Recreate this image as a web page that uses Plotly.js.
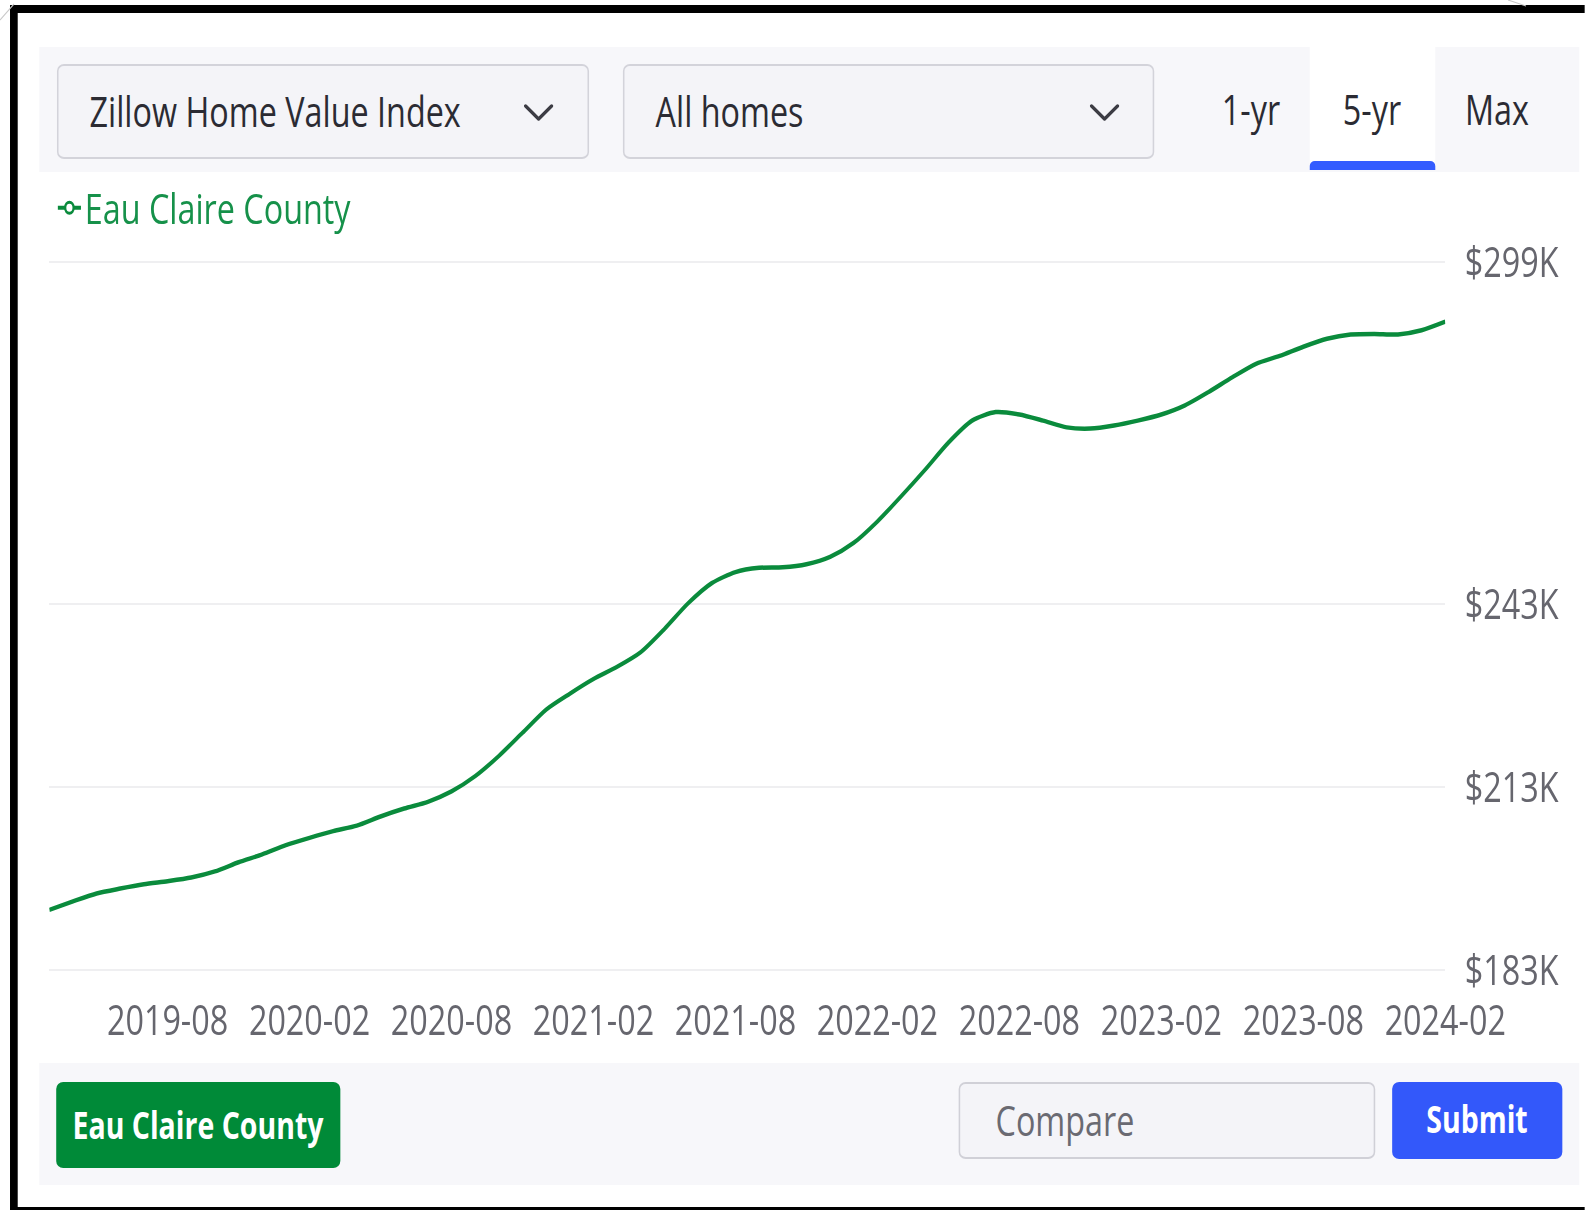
<!DOCTYPE html>
<html><head><meta charset="utf-8">
<script src="https://cdn.plot.ly/plotly-3.0.1.min.js"></script>
<style>
html,body{margin:0;padding:0;overflow:hidden;background:#fff;width:1585px;height:1210px;}
#stage{position:absolute;left:0;top:0;height:1210px;transform-origin:0 0;font-family:"Open Sans",sans-serif;}
.abs{position:absolute;box-sizing:border-box;}
#chart{position:absolute;left:0;top:0;}
</style></head><body>
<div id="stage"></div>
<script>
// ---------------- data ----------------
const seriesName = "Eau Claire County";
const months = ["2019-03","2019-04","2019-05","2019-06","2019-07","2019-08","2019-09","2019-10","2019-11","2019-12",
  "2020-01","2020-02","2020-03","2020-04","2020-05","2020-06","2020-07","2020-08","2020-09","2020-10","2020-11","2020-12",
  "2021-01","2021-02","2021-03","2021-04","2021-05","2021-06","2021-07","2021-08","2021-09","2021-10","2021-11","2021-12",
  "2022-01","2022-02","2022-03","2022-04","2022-05","2022-06","2022-07","2022-08","2022-09","2022-10","2022-11","2022-12",
  "2023-01","2023-02","2023-03","2023-04","2023-05","2023-06","2023-07","2023-08","2023-09","2023-10","2023-11","2023-12",
  "2024-01","2024-02"];
// home value index, thousands of dollars
const values = [192.9,194.3,195.6,196.4,197.1,197.6,198.2,199.2,200.7,202.0,
  203.5,204.7,205.8,206.7,208.2,209.5,210.6,212.3,214.8,218.1,221.9,225.7,
  228.3,230.7,232.7,235.1,238.9,243.1,246.4,248.2,248.9,249.0,249.5,250.7,
  253.0,256.5,260.6,264.9,269.4,273.0,274.4,274.0,273.0,271.9,271.7,272.2,
  273.0,274.0,275.5,277.7,280.1,282.3,283.6,285.1,286.4,287.1,287.2,287.1,
  287.8,289.2];
const xTickLabels = ["2019-08","2020-02","2020-08","2021-02","2021-08","2022-02","2022-08","2023-02","2023-08","2024-02"];
const yTickVals = [183, 213, 243, 299];
const yTickText = ["$183K","$213K","$243K","$299K"];

// ---------------- page layout ----------------
const S = 0.77;               // horizontal compression of the reference
const W = 1585, H = 1210;
const V = W / S;              // virtual width
const X = v => v / S;
const stage = document.getElementById('stage');
stage.style.width = V + 'px';
stage.style.transform = 'scaleX(' + S + ')';

function box(l, t, w, h, css, html) {
  const d = document.createElement('div');
  d.className = 'abs';
  d.style.left = X(l) + 'px'; d.style.top = t + 'px';
  d.style.width = X(w) + 'px'; d.style.height = h + 'px';
  Object.assign(d.style, css || {});
  if (html !== undefined) d.innerHTML = html;
  stage.appendChild(d);
  return d;
}
const rad = r => (X(r)) + 'px / ' + r + 'px';

// panels
box(39, 47, 1540, 125, {background:'#f7f7fa'});
box(39, 1063, 1540, 122, {background:'#f7f7fa'});
// 5-yr tab
box(1310, 47, 125, 116, {background:'#ffffff'});
box(1310, 161, 125, 9, {background:'#335cff', borderRadius: X(5)+'px '+X(5)+'px 0 0 / 5px 5px 0 0'});

const chev = '<svg width="'+X(30)+'" height="18" viewBox="0 0 30 18" preserveAspectRatio="none" style="position:absolute;top:38px;"><polyline points="2,2 15,15 28,2" fill="none" stroke="#3c3c44" stroke-width="3.2" stroke-linecap="round" stroke-linejoin="round"/></svg>';
function dropdown(l, w, label, chevL) {
  const d = box(l, 64, w, 95, {background:'#f4f4f8', border:'2px solid #d3d3da', borderRadius: rad(7)});
  const t = document.createElement('div');
  t.className = 'abs';
  t.style.left = X(31) + 'px'; t.style.top = '0px'; t.style.lineHeight = '90px';
  t.style.fontSize = '42px'; t.style.color = '#2b2b33'; t.style.whiteSpace = 'nowrap';
  t.textContent = label;
  d.appendChild(t);
  const c = document.createElement('div');
  c.className = 'abs'; c.style.left = X(chevL - l) + 'px'; c.style.top = '0px';
  c.innerHTML = chev;
  d.appendChild(c);
}
dropdown(57, 532, 'Zillow Home Value Index', 522);
dropdown(623, 531, 'All homes', 1088);

function centerText(cx, cy, w, txt, css) {
  return box(cx - w/2, cy - 30, w, 60, Object.assign({textAlign:'center', lineHeight:'60px', fontSize:'42px', color:'#2b2b33', whiteSpace:'nowrap'}, css||{}), txt);
}
centerText(1251, 109, 110, '1-yr');
centerText(1372, 109, 110, '5-yr');
centerText(1497, 109, 110, 'Max');

// bottom controls
box(56, 1082, 284, 86, {background:'#008a38', borderRadius: rad(7), color:'#fff', fontWeight:'700', fontSize:'37px', lineHeight:'86px', textAlign:'center', whiteSpace:'nowrap'}, 'Eau Claire County');
box(959, 1082, 416, 77, {background:'#f4f4f8', border:'2px solid #d0d0d7', borderRadius: rad(7), color:'#6a6a72', fontSize:'42px', lineHeight:'72px', whiteSpace:'nowrap', paddingLeft: X(35)+'px'}, 'Compare');
box(1392, 1082, 170, 77, {background:'#3358fa', borderRadius: rad(7), color:'#fff', fontWeight:'700', fontSize:'37px', lineHeight:'74px', textAlign:'center', whiteSpace:'nowrap'}, 'Submit');

// frame (black border of the screenshot)
box(10, 5, W - 10, 8, {background:'#000'});
box(10, 5, 8, H - 5, {background:'#000'});
box(10, 1207, W - 10, 3, {background:'#000'});
// faint page-corner lines
const corner = document.createElement('div');
corner.className = 'abs'; corner.style.left = '0px'; corner.style.top = '0px';
corner.innerHTML = '<svg width="'+V+'" height="30" viewBox="0 0 '+V+' 30" style="position:absolute;left:0;top:0"><line x1="0" y1="20" x2="'+X(14)+'" y2="4" stroke="#c8c8c8" stroke-width="1.2"/><line x1="'+X(1508)+'" y1="0" x2="'+X(1526)+'" y2="6" stroke="#c8c8c8" stroke-width="1.2"/></svg>';
stage.appendChild(corner);

// ---------------- chart ----------------
const chart = document.createElement('div');
chart.id = 'chart';
stage.appendChild(chart);

const green = '#0a8b3c';
const plotL = 49.5, plotR = 1445.5, plotT = 230, plotB = 985;
const traces = [
  {x: months, y: values, type:'scatter', mode:'lines', name: seriesName, showlegend:false, legendgroup:'g',
   line:{color: green, width:4.5, shape:'spline', smoothing:0.7}, hoverinfo:'x+y'},
  {x:[null], y:[null], type:'scatter', mode:'lines+markers', name: seriesName, legendgroup:'g',
   line:{color: green, width:4}, marker:{symbol:'circle', size:11, color:'#ffffff', line:{color: green, width:3}}}
];
const tickFont = {family:'"Open Sans", sans-serif', size:42, color:'#66666e'};
const layout = {
  width: V, height: H,
  margin: {l: X(plotL), r: V - X(plotR), t: plotT, b: H - plotB, pad:0, autoexpand:false},
  paper_bgcolor:'rgba(0,0,0,0)', plot_bgcolor:'rgba(0,0,0,0)',
  font: {family:'"Open Sans", sans-serif'},
  xaxis: {type:'category', range:[0, months.length - 1], tickmode:'array', tickvals: xTickLabels, ticktext: xTickLabels,
    tickangle:0, automargin:false, ticklabelstandoff:7,
    showgrid:false, zeroline:false, showline:false, ticks:'', tickfont: tickFont, fixedrange:true},
  yaxis: {range:[180.61, 304.21], side:'right', tickmode:'array', tickvals: yTickVals, ticktext: yTickText, automargin:false,
    showgrid:true, gridcolor:'#efeff1', gridwidth:2, zeroline:false, showline:false,
    ticks:'outside', ticklen:16, tickcolor:'rgba(0,0,0,0)', tickfont: tickFont, fixedrange:true},
  showlegend:true,
  legend: {xref:'container', yref:'container', x: X(54) / V, y: 1 - 208 / H, xanchor:'left', yanchor:'middle',
    font:{family:'"Open Sans", sans-serif', size:42, color:'#16914a'}, bgcolor:'rgba(0,0,0,0)', borderwidth:0}
};
Plotly.newPlot(chart, traces, layout, {displayModeBar:false, staticPlot:true});
</script>
</body></html>
